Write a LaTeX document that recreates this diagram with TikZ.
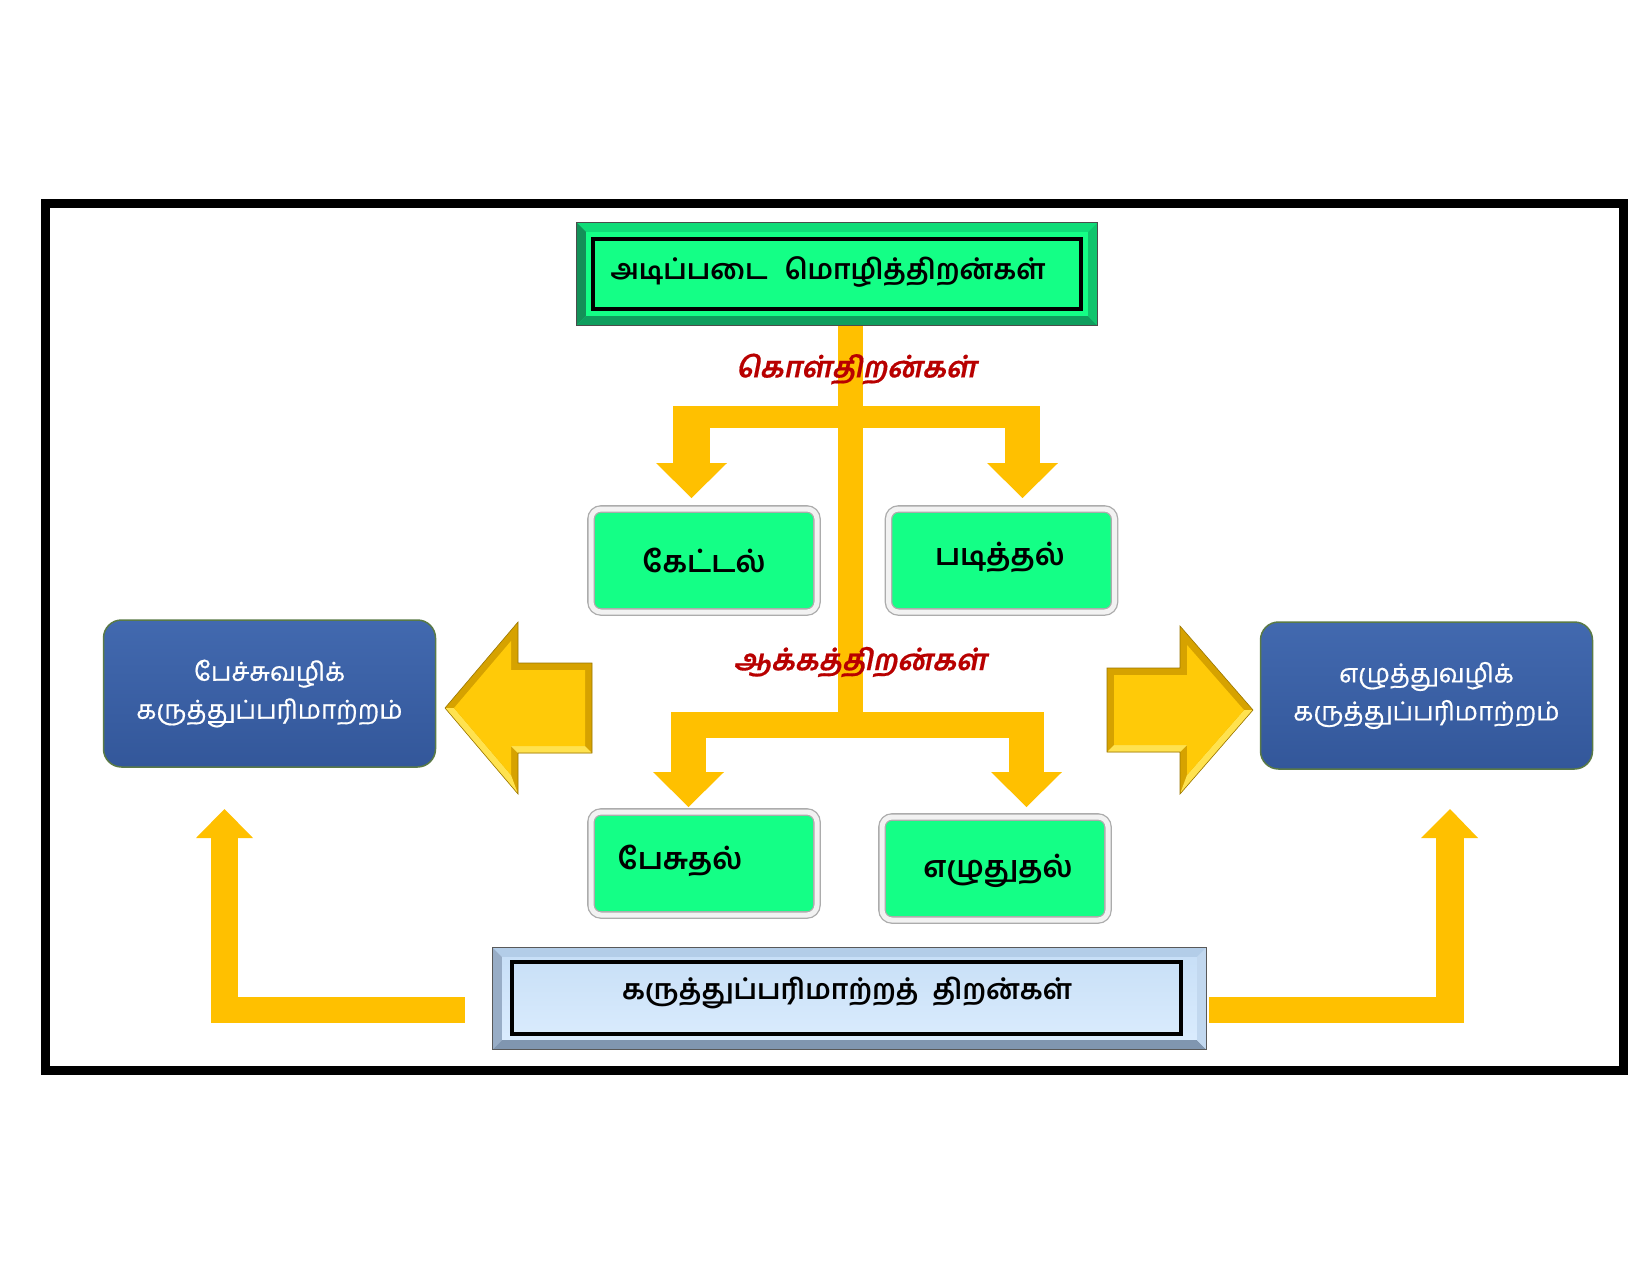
\documentclass[tikz,border=0pt]{standalone}
\usepackage{fontspec}
\newfontfamily\tamil[Script=Tamil]{Hind Madurai}
\newfontfamily\tamilmed[Script=Tamil,FakeBold=0.6]{Hind Madurai}
\newfontfamily\tamilsl[Script=Tamil,FakeSlant=0.2,FakeBold=0.5]{Hind Madurai}
\usetikzlibrary{calc,shadows}
\definecolor{arrowgold}{HTML}{FFC000}
\definecolor{spring}{HTML}{14FF86}
\definecolor{tbtop}{HTML}{10DC78}
\definecolor{tbleft}{HTML}{149058}
\definecolor{tbbottom}{HTML}{0F9E5E}
\definecolor{tbright}{HTML}{11C46D}
\definecolor{bbtop}{HTML}{B3CDE8}
\definecolor{bbleft}{HTML}{98ADC6}
\definecolor{bbbottom}{HTML}{8096B0}
\definecolor{bbright}{HTML}{C2D8EF}
\definecolor{bbfillA}{HTML}{C6DEF6}
\definecolor{bbfillB}{HTML}{DCEDFE}
\definecolor{blueA}{HTML}{4269AF}
\definecolor{blueB}{HTML}{33579A}
\definecolor{blueedge}{HTML}{5A7A46}
\definecolor{labelred}{HTML}{B80000}
\definecolor{bevdark}{HTML}{D6A200}
\definecolor{bevlight}{HTML}{FFE24F}
\definecolor{arrowface}{HTML}{FFCA08}
\definecolor{bevline}{HTML}{9A7600}
\tikzset{
  flatarrow/.style={fill=arrowgold, draw=none},
  smallbox/.style={rounded corners=10pt, fill=spring, draw=gray!65, line width=1.3pt,
    double=gray!10, double distance=5pt, minimum width=226pt, minimum height=103pt,
    inner sep=0pt, font=\tamil\bfseries\fontsize{30}{36}\selectfont,
    drop shadow={opacity=0.3, shadow xshift=1.5pt, shadow yshift=-2.5pt}},
  bluebox/.style={rounded corners=18pt, top color=blueA, bottom color=blueB,
    draw=blueedge, line width=1.5pt, minimum width=332pt, minimum height=147pt,
    inner sep=0pt, align=center, text=white, font=\tamilmed\fontsize{26}{38}\selectfont},
  flatbox/.style={minimum width=520pt, minimum height=102pt, inner sep=0pt},
  boxtext/.style={inner sep=0pt, font=\tamil\bfseries\fontsize{30}{36}\selectfont},
  lbl/.style={inner sep=0pt, text=labelred, font=\tamilsl\bfseries\fontsize{29}{34}\selectfont},
}
\begin{document}
\begin{tikzpicture}[x=1pt,y=-1pt]
\useasboundingbox (0,0) rectangle (1650,1275);
\fill[white] (0,0) rectangle (1650,1275);
% frame
\draw[line width=9pt] (45.5,203.5) rectangle (1623.5,1070.5);

% flat arrows: central stem and two branch bars
\fill[flatarrow] (838,323) rectangle (863,738);
\fill[flatarrow] (673,406) rectangle (1040,428);
\fill[flatarrow] (673,406) rectangle (710,463);
\fill[flatarrow] (656,463) -- (727,463) -- (691.5,498) -- cycle;
\fill[flatarrow] (1005,406) rectangle (1040,463);
\fill[flatarrow] (987,463) -- (1058,463) -- (1022.5,498) -- cycle;
\fill[flatarrow] (671,712) rectangle (1044,738);
\fill[flatarrow] (671,712) rectangle (706,772);
\fill[flatarrow] (653,772) -- (724,772) -- (688.5,807) -- cycle;
\fill[flatarrow] (1009,712) rectangle (1044,772);
\fill[flatarrow] (991,772) -- (1062,772) -- (1026.5,807) -- cycle;

% L-shaped arrows at the bottom
\fill[flatarrow] (211,838) rectangle (238,1023);
\fill[flatarrow] (211,997) rectangle (465,1023);
\fill[flatarrow] (196,838) -- (253,838) -- (224.5,809) -- cycle;
\fill[flatarrow] (1436,838) rectangle (1464,1023);
\fill[flatarrow] (1209,997) rectangle (1464,1023);
\fill[flatarrow] (1421,838) -- (1478,838) -- (1450,809) -- cycle;

% top box
\node[flatbox, fill=spring] (top) at (837,274) {};
\fill[tbtop] (top.north west) -- (top.north east) -- ++(-9,9) -- ($(top.north west)+(9,9)$) -- cycle;
\fill[tbleft] (top.north west) -- ($(top.north west)+(9,9)$) -- ($(top.south west)+(9,-9)$) -- (top.south west) -- cycle;
\fill[tbbottom] (top.south west) -- ($(top.south west)+(9,-9)$) -- ($(top.south east)+(-9,-9)$) -- (top.south east) -- cycle;
\fill[tbright] (top.north east) -- ($(top.north east)+(-9,9)$) -- ($(top.south east)+(-9,-9)$) -- (top.south east) -- cycle;
\draw[gray!60!black, line width=0.8pt] (top.north west) rectangle (top.south east);
\draw[line width=4pt] ($(top.north west)+(16,16)$) rectangle ($(top.south east)+(-16,-16)$);
\node[boxtext, font=\tamil\bfseries\fontsize{28}{34}\selectfont] (toptext) at (828,272) {அடிப்படை\hspace{0.6em}மொழித்திறன்கள்};

% bottom box
\node[flatbox, minimum width=713pt, minimum height=101pt, top color=bbfillA, bottom color=bbfillB] (bottom) at (849.5,998.5) {};
\fill[bbtop] (bottom.north west) -- (bottom.north east) -- ++(-9,9) -- ($(bottom.north west)+(9,9)$) -- cycle;
\fill[bbleft] (bottom.north west) -- ($(bottom.north west)+(9,9)$) -- ($(bottom.south west)+(9,-9)$) -- (bottom.south west) -- cycle;
\fill[bbbottom] (bottom.south west) -- ($(bottom.south west)+(9,-9)$) -- ($(bottom.south east)+(-9,-9)$) -- (bottom.south east) -- cycle;
\fill[bbright] (bottom.north east) -- ($(bottom.north east)+(-9,9)$) -- ($(bottom.south east)+(-9,-9)$) -- (bottom.south east) -- cycle;
\draw[gray!70!black, line width=0.8pt] (bottom.north west) rectangle (bottom.south east);
\draw[line width=4pt] ($(bottom.north west)+(19,14)$) rectangle ($(bottom.south east)+(-25,-15)$);
\node[boxtext, font=\tamil\bfseries\fontsize{28}{34}\selectfont] (bottomtext) at (847,993) {கருத்துப்பரிமாற்றத்\hspace{0.5em}திறன்கள்};

% small green boxes
\node[smallbox] (kettal) at (704,560.5) {கேட்டல்};
\node[smallbox] (padittal) at (1001.5,560.5) {};
\node[boxtext] (padittaltext) at (1000,557) {படித்தல்};
\node[smallbox] (pesutal) at (704,863.5) {};
\node[boxtext] (pesutaltext) at (680,861) {பேசுதல்};
\node[smallbox] (ezhututal) at (995,868.5) {};
\node[boxtext] (ezhututaltext) at (998,871) {எழுதுதல்};

% blue boxes
\node[bluebox] (leftblue) at (269.5,693.5) {பேச்சுவழிக்\\கருத்துப்பரிமாற்றம்};
\node[bluebox] (rightblue) at (1426.5,695.5) {எழுத்துவழிக்\\கருத்துப்பரிமாற்றம்};

% big 3D arrow pointing left
\fill[bevdark] (445,708) -- (518,622) -- (518,663) -- (592,663) -- (592,753) -- (518,753) -- (518,794) -- cycle;
\fill[bevlight] (445,708) -- (518,794) -- (511,775) -- (454,708) -- cycle;
\fill[bevlight] (518,753) -- (592,753) -- (585,746) -- (511,746) -- cycle;
\fill[arrowface] (454,708) -- (511,641) -- (511,670) -- (585,670) -- (585,746) -- (511,746) -- (511,775) -- cycle;
\draw[bevline, line width=0.6pt] (445,708) -- (518,622) -- (518,663) -- (592,663) -- (592,753) -- (518,753) -- (518,794) -- cycle;

% big 3D arrow pointing right
\fill[bevdark] (1253,710) -- (1180,626) -- (1180,668) -- (1107,668) -- (1107,752) -- (1180,752) -- (1180,794) -- cycle;
\fill[bevlight] (1253,710) -- (1180,794) -- (1187,775) -- (1244,710) -- cycle;
\fill[bevlight] (1107,752) -- (1180,752) -- (1187,745) -- (1114,745) -- cycle;
\fill[arrowface] (1244,710) -- (1187,645) -- (1187,675) -- (1114,675) -- (1114,745) -- (1187,745) -- (1187,775) -- cycle;
\draw[bevline, line width=0.6pt] (1253,710) -- (1180,626) -- (1180,668) -- (1107,668) -- (1107,752) -- (1180,752) -- (1180,794) -- cycle;

% red labels
\node[lbl] (kol) at (856,369) {கொள்திறன்கள்};
\node[lbl] (aakkam) at (860,662) {ஆக்கத்திறன்கள்};
\end{tikzpicture}
\end{document}
